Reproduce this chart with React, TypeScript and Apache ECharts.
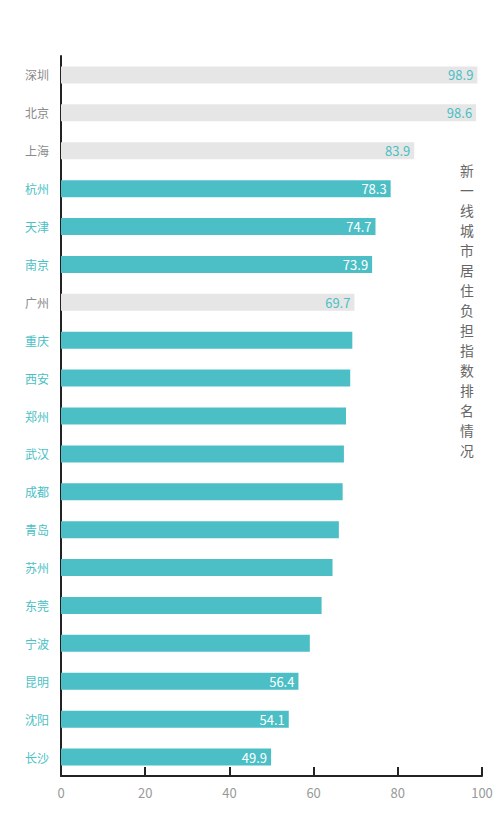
import React, { useEffect, useRef } from "react";
import * as echarts from "echarts";

const cities = ["深圳", "北京", "上海", "杭州", "天津", "南京", "广州", "重庆", "西安", "郑州", "武汉", "成都", "青岛", "苏州", "东莞", "宁波", "昆明", "沈阳", "长沙"];
const values = [98.9, 98.6, 83.9, 78.3, 74.7, 73.9, 69.7, 69.2, 68.7, 67.7, 67.2, 66.9, 66.0, 64.5, 61.9, 59.1, 56.4, 54.1, 49.9];
const firstTier = ["深圳", "北京", "上海", "广州"];
const labelled = ["深圳", "北京", "上海", "杭州", "天津", "南京", "广州", "昆明", "沈阳", "长沙"];
const xTicks = [0, 20, 40, 60, 80, 100];
const title = "新一线城市居住负担指数排名情况";

const TEAL = "#4bbfc5";
const GREY_BAR = "#e6e6e6";
const FONT = "'Noto Sans CJK SC', 'Noto Sans', sans-serif";

export default function App() {
  const ref = useRef<HTMLDivElement>(null);
  useEffect(() => {
    if (!ref.current) return;
    const chart = echarts.init(ref.current, undefined, { renderer: "svg" });
    const data = cities.map((c, i) => {
      const grey = firstTier.includes(c);
      return {
        value: values[i],
        itemStyle: { color: grey ? GREY_BAR : TEAL },
        label: {
          show: labelled.includes(c),
          position: "insideRight",
          distance: 4,
          color: grey ? TEAL : "#ffffff",
          fontSize: 13,
          fontFamily: FONT,
          formatter: (p: any) => Number(p.value).toFixed(1),
        },
      };
    });
    const titleChars = title.split("").map((ch, i) => ({
      type: "text",
      x: 467,
      y: 170 + i * 20,
      style: {
        text: ch,
        fill: "#666666",
        fontSize: 13.8,
        fontFamily: FONT,
        textAlign: "center",
        textVerticalAlign: "middle",
      },
    }));
    chart.setOption({
      animation: false,
      textStyle: { fontFamily: FONT },
      grid: { left: 61, right: 18, top: 56, bottom: 47, containLabel: false },
      xAxis: {
        type: "value",
        min: xTicks[0],
        max: xTicks[xTicks.length - 1],
        interval: 20,
        axisLine: { show: true, lineStyle: { color: "#222", width: 2 } },
        axisTick: { show: true, inside: true, length: 9, lineStyle: { color: "#222", width: 2 } },
        splitLine: { show: false },
        axisLabel: { color: "#999", fontSize: 13, margin: 10, fontFamily: FONT },
      },
      yAxis: {
        type: "category",
        inverse: true,
        data: cities,
        axisLine: { show: true, lineStyle: { color: "#222", width: 2 } },
        axisTick: { show: true, inside: true, alignWithLabel: true, length: 10, lineStyle: { color: "#222", width: 2 } },
        axisLabel: {
          fontSize: 12,
          margin: 12,
          fontFamily: FONT,
          color: (v: any) => (firstTier.includes(v) ? "#8a8a8a" : TEAL),
        },
      },
      series: [
        {
          type: "bar",
          data,
          barWidth: 17,
          z: 1,
        },
      ],
      graphic: titleChars,
    });
    return () => chart.dispose();
  }, []);
  return <div ref={ref} style={{ width: 500, height: 823, position: "absolute", left: 0, top: 0 }} />;
}
